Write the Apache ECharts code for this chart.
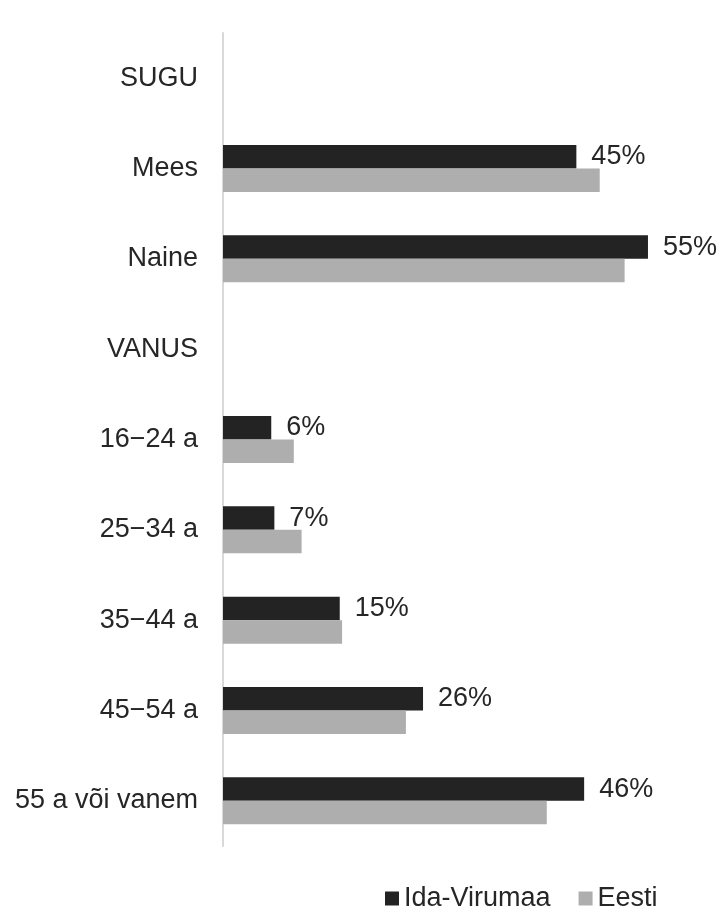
<!DOCTYPE html>
<html>
<head>
<meta charset="utf-8">
<script src="https://cdn.jsdelivr.net/npm/echarts@6/dist/echarts.min.js"></script>
<style>
  html, body { margin: 0; padding: 0; background: #ffffff; }
  #chart { width: 717px; height: 909px; }
</style>
</head>
<body>
<div id="chart"></div>
<script>
const categories = ['SUGU', 'Mees', 'Naine', 'VANUS', '16\u221224 a', '25\u221234 a', '35\u221244 a', '45\u221254 a', '55 a või vanem'];
const idaVirumaa = [null, 45.4, 54.6, null, 6.2, 6.6, 15.0, 25.7, 46.4];
const eesti = [null, 48.4, 51.6, null, 9.1, 10.1, 15.3, 23.5, 41.6];
const seriesNames = ['Ida-Virumaa', 'Eesti'];

const FONT = "'Liberation Sans', Arial, Helvetica, sans-serif";
const TEXT = '#262626';

const chart = echarts.init(document.getElementById('chart'), null, { renderer: 'canvas' });
chart.setOption({
  animation: false,
  backgroundColor: '#ffffff',
  textStyle: { fontFamily: FONT },
  grid: { left: 223, top: 33, width: 467, height: 813, containLabel: false },
  xAxis: {
    type: 'value', min: 0, max: 60,
    axisLine: { show: false }, axisTick: { show: false },
    axisLabel: { show: false }, splitLine: { show: false }
  },
  yAxis: {
    type: 'category', data: categories, inverse: true,
    axisLine: { show: true, lineStyle: { color: '#d9d9d9', width: 2 } },
    axisTick: { show: false },
    axisLabel: { color: TEXT, fontSize: 27, fontFamily: FONT, margin: 25 }
  },
  legend: {
    data: seriesNames,
    left: 380, top: 880,
    itemWidth: 14, itemHeight: 14, itemGap: 28,
    icon: 'rect',
    textStyle: { color: TEXT, fontSize: 27, fontFamily: FONT }
  },
  series: [
    {
      name: seriesNames[0], type: 'bar', data: idaVirumaa,
      barWidth: 23.5, barGap: '0%',
      itemStyle: { color: '#232323' },
      label: {
        show: true, position: 'right', distance: 15,
        color: TEXT, fontSize: 27, fontFamily: FONT,
        formatter: p => (p.value == null ? '' : Math.round(p.value) + '%')
      }
    },
    {
      name: seriesNames[1], type: 'bar', data: eesti,
      barWidth: 23.5, barGap: '0%',
      itemStyle: { color: '#aeaeae' }
    }
  ]
});
</script>
</body>
</html>
